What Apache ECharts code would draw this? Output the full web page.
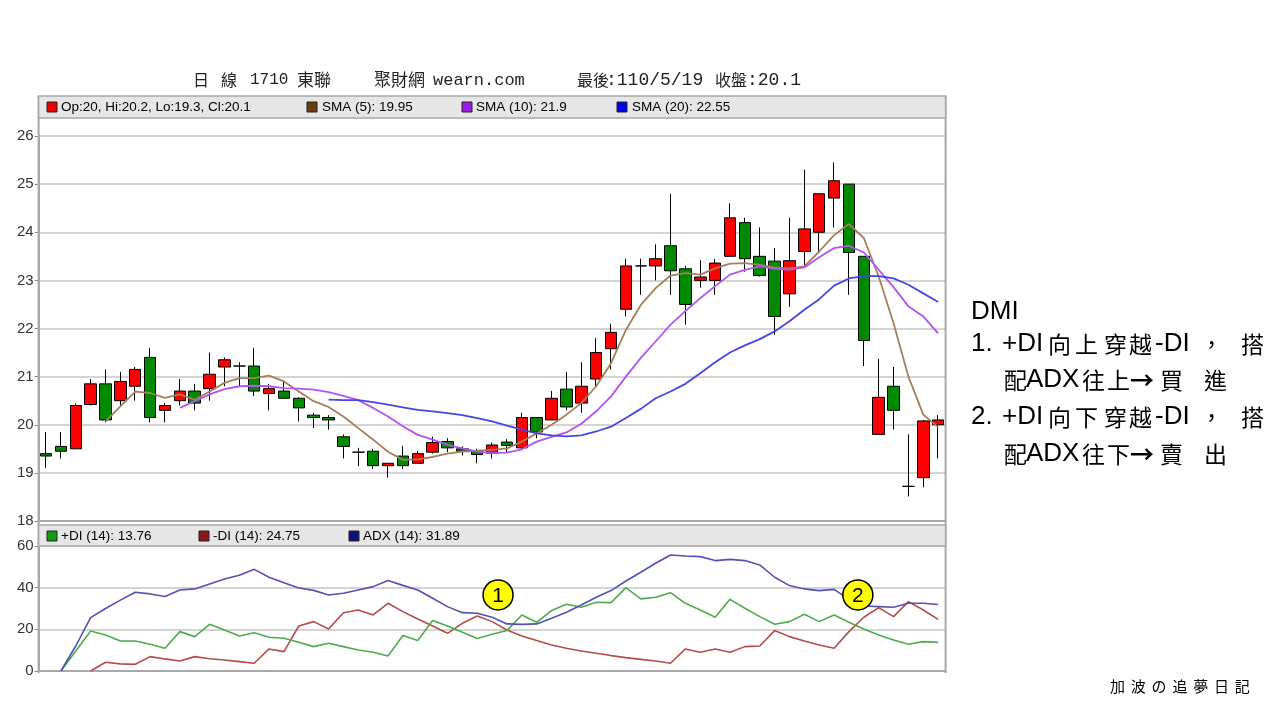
<!DOCTYPE html>
<html><head><meta charset="utf-8">
<script src="https://cdn.jsdelivr.net/npm/echarts@6/dist/echarts.min.js"></script>
<style>html,body{margin:0;padding:0;background:#fff}#c{width:1280px;height:720px}</style>
</head><body><div id="c"></div>
<script>
const categories = ['1','2','3','4','5','6','7','8','9','10','11','12','13','14','15','16','17','18','19','20','21','22','23','24','25','26','27','28','29','30','31','32','33','34','35','36','37','38','39','40','41','42','43','44','45','46','47','48','49','50','51','52','53','54','55','56','57','58','59','60','61'];
const opens = [19.4,19.55,19.5,20.42,20.85,20.5,20.8,21.4,20.3,20.5, 20.7,20.75,21.2,21.22,21.22,20.65,20.7,20.55,20.2,20.15, 19.75,19.43,19.45,19.15,19.35,19.2,19.43,19.65,19.5,19.45, 19.41,19.64,19.52,20.15,20.1,20.74,20.45,20.95,21.58,22.4, 23.3,23.3,23.72,23.24,23.0,23.0,23.5,24.2,23.5,23.4, 22.72,23.6,24.0,24.71,25.0,23.5,19.8,20.8,18.72,18.9,20.0];
const closes = [19.35,19.45,20.4,20.85,20.1,20.9,21.15,20.15,20.4,20.7, 20.45,21.05,21.35,21.22,20.7,20.75,20.55,20.35,20.15,20.1, 19.55,19.43,19.15,19.2,19.15,19.4,19.63,19.52,19.45,19.38, 19.58,19.57,20.15,19.85,20.55,20.37,20.8,21.5,21.92,23.3, 23.3,23.45,23.2,22.5,23.07,23.36,24.3,23.45,23.1,22.25, 23.41,24.07,24.8,25.07,23.58,21.75,20.57,20.3,18.72,20.08,20.1];
const lows = [19.1,19.3,19.5,20.4,20.05,20.4,20.5,20.05,20.05,20.4, 20.3,20.5,20.8,20.8,20.6,20.3,20.55,20.07,19.93,19.9, 19.3,19.14,19.08,18.9,19.08,19.2,19.4,19.43,19.36,19.2, 19.3,19.42,19.5,19.72,20.1,20.3,20.25,20.8,21.15,22.25, 22.7,23.0,22.7,22.08,22.85,22.7,23.5,23.18,23.08,21.87, 22.45,23.3,23.58,24.1,22.7,21.22,19.8,19.9,18.51,18.7,19.3];
const highs = [19.85,19.85,20.44,20.95,21.15,21.1,21.2,21.6,20.45,20.95, 20.85,21.5,21.4,21.3,21.6,20.85,20.9,20.57,20.25,20.2, 19.8,19.52,19.5,19.2,19.56,19.45,19.75,19.72,19.55,19.5, 19.63,19.7,20.25,20.15,20.7,21.1,21.3,21.8,22.1,23.45, 23.45,23.75,24.8,23.3,23.42,23.45,24.6,24.3,24.1,23.67, 24.3,25.3,24.8,25.45,25.0,23.5,21.37,21.2,19.8,20.1,20.2];
const sma5 = [null,null,null,null,20.07,20.38,20.69,20.66,20.56,20.63, 20.52,20.69,20.87,20.97,20.97,21.02,20.9,20.69,20.49,20.37, 20.17,19.93,19.69,19.44,19.27,19.28,19.33,19.4,19.44,19.46, 19.48,19.51,19.65,19.82,20.0,20.21,20.45,20.8,21.28,21.97, 22.49,22.84,23.1,23.15,23.12,23.25,23.35,23.36,23.32,23.27, 23.25,23.29,23.6,23.94,24.17,23.88,23.08,22.11,21.0,20.21,19.95];
const sma10 = [null,null,null,null,null,null,null,null,null,20.35, 20.49,20.63,20.74,20.8,20.81,20.8,20.76,20.75,20.73,20.68, 20.6,20.51,20.35,20.17,19.97,19.79,19.69,19.58,19.51,19.44, 19.41,19.42,19.49,19.65,19.75,19.84,20.02,20.28,20.59,21.0, 21.39,21.73,22.08,22.36,22.63,22.88,23.12,23.22,23.29,23.24, 23.22,23.27,23.48,23.67,23.72,23.58,23.22,22.86,22.46,22.25,21.9];
const sma20 = [null,null,null,null,null,null,null,null,null,null, null,null,null,null,null,null,null,null,null,20.52, 20.51,20.51,20.47,20.42,20.36,20.31,20.28,20.24,20.2,20.14, 20.07,19.98,19.9,19.82,19.78,19.76,19.78,19.86,19.96,20.14, 20.33,20.55,20.69,20.85,21.07,21.3,21.5,21.65,21.78,21.94, 22.15,22.39,22.61,22.89,23.04,23.09,23.09,23.04,22.91,22.73,22.55];
const plusDI = [null,0,9.6,19.2,17.3,14.4,14.4,12.8,10.9,18.9, 16.5,22.4,19.7,16.8,18.4,16.2,15.7,13.8,11.7,13.3, 11.7,10.1,9,7.2,17,14.6,24.2,21.6,18.6,15.6, 17.6,19.4,26.9,23.4,29,32,30.6,33,32.8,40, 34.6,35.4,37.6,32.5,29.3,25.8,34.4,30.1,26.1,22.4, 23.7,27.2,23.7,26.9,23.4,20.2,17.3,14.9,12.8,14.1,13.76];
const minusDI = [null,null,null,0,4.2,3.4,3.2,6.9,5.8,4.8, 6.9,5.9,5.3,4.5,3.7,10.6,9.3,21.6,23.7,20.2, 28,29.3,26.9,32.5,28.5,25,21.6,18.1,22.9,26.4, 23.7,19.7,16.8,14.6,12.5,10.9,9.6,8.5,7.4,6.4, 5.6,4.8,3.7,10.6,9,10.6,9,11.7,12,19.4, 16.5,14.4,12.5,10.9,18.9,25.8,30.4,26.1,33.3,29.3,24.75];
const adx = [null,0,12,25.6,30,34,37.8,37,35.8,38.9, 39.4,41.8,44.2,46,48.8,45,42.4,39.8,38.7,36.5, 37.3,38.9,40.5,43.4,41.1,38.9,34.9,30.9,28,27.7, 25.8,22.6,22.4,22.6,25.3,28.2,31.7,35.4,38.6,43.2, 47.4,51.7,55.7,55.2,54.9,53,53.6,53,50.9,45, 41,39.4,38.6,39.2,34.4,31.2,30.9,30.6,32.5,32.5,31.89];
const priceTicks = {min:18, max:26, interval:1};
const dmiTicks = {min:0, max:60, interval:20};
const annotations = [{label:'1', idx:30.4, value:36.5},{label:'2', idx:54.6, value:36.5}];

const candleData = categories.map((c,i)=>[opens[i],closes[i],lows[i],highs[i]]);
const chart = echarts.init(document.getElementById('c'), null, {renderer:'canvas'});
const LAT = 'Liberation Sans, Arial, sans-serif';
const CJK = '"Noto Sans CJK TC", sans-serif';
const MONO = '"Liberation Mono", "Noto Sans CJK TC", monospace';
const GL = 38.6, GW = 907;

function txt(x, y, text, size, family, opt) {
  opt = opt || {};
  return {type:'text', x:x, y:y, z:120, style:{text:text, fontSize:size, fontFamily:family, fontWeight:opt.weight||'normal', fill:opt.fill||'#000', textVerticalAlign:'middle', verticalAlign:'middle', textAlign:opt.align||'left', align:opt.align||'left'}};
}
function sq(x, y, color) {
  return {type:'rect', z:120, shape:{x:x, y:y, width:10, height:10}, style:{fill:color, stroke:'#222', lineWidth:1}};
}

const axisCommon = {
  type:'category', data:categories, boundaryGap:true,
  axisLabel:{show:false}, axisTick:{show:false},
  axisLine:{show:true, lineStyle:{color:'#a8a8a8', width:2}}, splitLine:{show:false}
};

chart.setOption({
  animation:false,
  backgroundColor:'#ffffff',
  grid:[
    {left:GL, width:GW, top:136, height:385, containLabel:false},
    {left:GL, width:GW, top:546, height:125, containLabel:false}
  ],
  xAxis:[Object.assign({gridIndex:0}, axisCommon), Object.assign({gridIndex:1}, axisCommon)],
  yAxis:[
    {gridIndex:0, type:'value', min:priceTicks.min, max:priceTicks.max, interval:priceTicks.interval,
     axisLine:{show:true, lineStyle:{color:'#a8a8a8', width:2}},
     axisTick:{show:true, length:4, lineStyle:{color:'#888'}},
     axisLabel:{color:'#333', fontSize:15, fontFamily:LAT, margin:5},
     splitLine:{show:true, lineStyle:{color:'#d4d4d4', width:2}}},
    {gridIndex:1, type:'value', min:dmiTicks.min, max:dmiTicks.max, interval:dmiTicks.interval,
     axisLine:{show:true, lineStyle:{color:'#a8a8a8', width:2}},
     axisTick:{show:true, length:4, lineStyle:{color:'#888'}},
     axisLabel:{color:'#333', fontSize:15, fontFamily:LAT, margin:5},
     splitLine:{show:true, lineStyle:{color:'#d4d4d4', width:2}}}
  ],
  series:[
    {type:'candlestick', xAxisIndex:0, yAxisIndex:0, data:candleData, barWidth:12,
     itemStyle:{color:'#ff0000', color0:'#008a00', borderColor:'#000', borderColor0:'#000', borderColorDoji:'#000', borderWidth:1}},
    {type:'line', name:'SMA (5)', xAxisIndex:0, yAxisIndex:0, data:sma5, symbol:'none', lineStyle:{color:'#a57f5c', width:1.8}},
    {type:'line', name:'SMA (10)', xAxisIndex:0, yAxisIndex:0, data:sma10, symbol:'none', lineStyle:{color:'#b453f2', width:1.8}},
    {type:'line', name:'SMA (20)', xAxisIndex:0, yAxisIndex:0, data:sma20, symbol:'none', lineStyle:{color:'#4646e6', width:1.8}},
    {type:'line', name:'-DI', xAxisIndex:1, yAxisIndex:1, data:minusDI, symbol:'none', lineStyle:{color:'#b84a4a', width:1.6}},
    {type:'line', name:'+DI', xAxisIndex:1, yAxisIndex:1, data:plusDI, symbol:'none', lineStyle:{color:'#4eab4e', width:1.6}},
    {type:'line', name:'ADX', xAxisIndex:1, yAxisIndex:1, data:adx, symbol:'none', lineStyle:{color:'#5252b4', width:1.6}}
  ]
});

function annPos(a) {
  const i0 = Math.floor(a.idx), f = a.idx - i0;
  const p0 = chart.convertToPixel({xAxisIndex:1, yAxisIndex:1}, [i0, a.value]);
  const p1 = chart.convertToPixel({xAxisIndex:1, yAxisIndex:1}, [i0+1, a.value]);
  return [p0[0] + (p1[0]-p0[0])*f, p0[1]];
}

const g = [];
g.push({type:'line', z:110, shape:{x1:GL, y1:96, x2:GL, y2:673}, style:{stroke:'#a8a8a8', lineWidth:2}});
g.push({type:'line', z:110, shape:{x1:GL+GW, y1:96, x2:GL+GW, y2:673}, style:{stroke:'#a8a8a8', lineWidth:2}});
g.push({type:'line', z:110, shape:{x1:GL, y1:521, x2:GL+GW, y2:521}, style:{stroke:'#a8a8a8', lineWidth:2}});
g.push({type:'rect', z:115, shape:{x:GL, y:96, width:GW, height:22}, style:{fill:'#e6e6e6', stroke:'#a8a8a8', lineWidth:1.5}});
g.push({type:'rect', z:115, shape:{x:GL, y:525, width:GW, height:21}, style:{fill:'#e6e6e6', stroke:'#a8a8a8', lineWidth:1.5}});
g.push(sq(47, 102, '#ee0000')); g.push(txt(61, 107.5, 'Op:20, Hi:20.2, Lo:19.3, Cl:20.1', 13.5, LAT));
g.push(sq(307, 102, '#6b3a10')); g.push(txt(322, 107.5, 'SMA (5): 19.95', 13.5, LAT));
g.push(sq(462, 102, '#9a1ee8')); g.push(txt(476, 107.5, 'SMA (10): 21.9', 13.5, LAT));
g.push(sq(617, 102, '#0000ee')); g.push(txt(632, 107.5, 'SMA (20): 22.55', 13.5, LAT));
g.push(sq(47, 531, '#189818')); g.push(txt(61, 536, '+DI (14): 13.76', 13.5, LAT));
g.push(sq(199, 531, '#8a1a1a')); g.push(txt(213, 536, '-DI (14): 24.75', 13.5, LAT));
g.push(sq(349, 531, '#12127a')); g.push(txt(363, 536, 'ADX (14): 31.89', 13.5, LAT));
const TY = 80;
g.push(txt(193, TY, '日', 16, CJK, {fill:'#222'}));
g.push(txt(221, TY, '線', 16, CJK, {fill:'#222'}));
g.push(txt(250, TY, '1710', 16, MONO, {fill:'#222'}));
g.push(txt(297, TY, '東聯', 17, CJK, {fill:'#222'}));
g.push(txt(374, TY, '聚財網', 17, CJK, {fill:'#222'}));
g.push(txt(433, TY, 'wearn.com', 17, MONO, {fill:'#222'}));
g.push(txt(577, TY, '最後', 16, CJK, {fill:'#222'}));
g.push(txt(606, TY, ':110/5/19', 18, MONO, {fill:'#222'}));
g.push(txt(715, TY, '收盤', 16, CJK, {fill:'#222'}));
g.push(txt(747, TY, ':20.1', 18, MONO, {fill:'#222'}));
g.push(txt(971, 312, 'DMI', 26, LAT));
const lines = [
  {y:344, parts:[[971,'1.',LAT,26],[1002,'+DI',LAT,26],[1048,'向',CJK,23],[1075,'上',CJK,23],[1104,'穿',CJK,23],[1129,'越',CJK,23],[1155,'-DI',LAT,26],[1200,'，',CJK,23],[1241,'搭',CJK,23]]},
  {y:380, parts:[[1004,'配',CJK,23],[1026,'ADX',LAT,26],[1082,'往',CJK,23],[1107,'上',CJK,23],[1130,'→',CJK,24,'bold'],[1160,'買',CJK,23],[1204,'進',CJK,23]]},
  {y:417, parts:[[971,'2.',LAT,26],[1002,'+DI',LAT,26],[1048,'向',CJK,23],[1075,'下',CJK,23],[1104,'穿',CJK,23],[1129,'越',CJK,23],[1155,'-DI',LAT,26],[1200,'，',CJK,23],[1241,'搭',CJK,23]]},
  {y:454, parts:[[1004,'配',CJK,23],[1026,'ADX',LAT,26],[1082,'往',CJK,23],[1107,'下',CJK,23],[1130,'→',CJK,24,'bold'],[1160,'賣',CJK,23],[1204,'出',CJK,23]]}
];
lines.forEach(l => l.parts.forEach(p => g.push(txt(p[0], l.y, p[1], p[3], p[2], {weight:p[4]||'normal'}))));
const wm = ['加','波','の','追','夢','日','記'];
wm.forEach((ch, k) => g.push(txt(1110 + k*20.8, 686, ch, 15, '"Noto Sans CJK JP", sans-serif')));
annotations.forEach(a => {
  const p = annPos(a);
  g.push({type:'circle', z:130, shape:{cx:p[0], cy:p[1], r:15}, style:{fill:'#ffff00', stroke:'#000', lineWidth:1.5}});
  g.push({type:'text', z:131, x:p[0], y:p[1]+1, style:{text:a.label, fontSize:21, fontFamily:LAT, fill:'#000', textAlign:'center', align:'center', textVerticalAlign:'middle', verticalAlign:'middle'}});
});
chart.setOption({graphic:{elements:g}});
</script>
</body></html>
